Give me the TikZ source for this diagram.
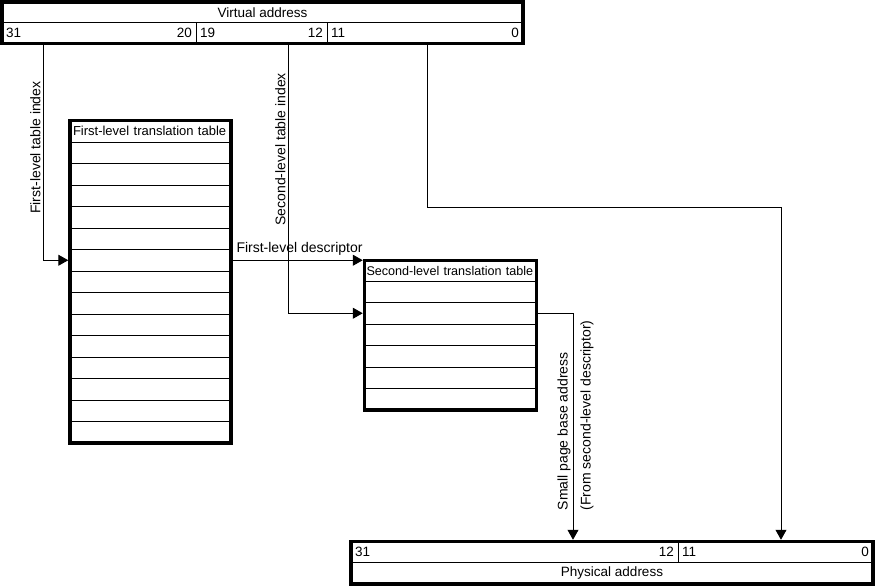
\documentclass[tikz,border=0pt]{standalone}
\usepackage{fontspec}
\setmainfont{Liberation Sans}
\usetikzlibrary{arrows.meta,positioning}
\tikzset{
  cell/.style={draw=black, line width=1pt, inner sep=0pt, outer sep=0pt, font=\fontsize{13.5}{16}\selectfont},
  bitcell/.style={cell, inner xsep=4pt, minimum height=20.5pt, anchor=north west},
  tabtitle/.style={cell, inner xsep=3pt, align=left, text width=155pt, minimum height=21.5pt, font=\fontsize{13}{15}\selectfont},
  tabrow/.style={cell, minimum height=21.5pt},
  thickframe/.style={line width=3.5pt},
  conn/.style={line width=1pt, -{Triangle[length=10pt,width=11pt]}, shorten >=1.75pt},
  vlabel/.style={rotate=90, inner sep=2pt, font=\fontsize{14}{16}\selectfont}
}
\begin{document}
\begin{tikzpicture}[x=1pt, y=-1pt]
\useasboundingbox (0,0) rectangle (876,586);
% virtual address
\node[cell, minimum width=521pt, minimum height=21pt] (vat) at (262.5,12.5) {Virtual address};
\node[bitcell, text width=186pt] (va1) at (vat.south west) {31\hfill 20};
\node[bitcell, text width=123pt, right=0pt of va1] (va2) {19\hfill 12};
\node[bitcell, text width=188pt, right=0pt of va2] (va3) {11\hfill 0};
% first-level table
\node[tabtitle] (ft) at (150.5,131.25) {First-level translation table};
\node[tabrow, minimum width=161pt, below=0pt of ft] (f1) {};
\foreach \i [evaluate=\i as \j using int(\i-1)] in {2,...,14}
  \node[tabrow, minimum width=161pt, below=0pt of f\j] (f\i) {};
% second-level table
\node[tabtitle, inner xsep=2pt, text width=168pt, minimum height=20.5pt, font=\fontsize{12.6}{15}\selectfont] (st) at (450.5,270.75) {\mbox{Second-level translation table}};
\node[tabrow, minimum width=172pt, below=0pt of st] (s1) {};
\foreach \i [evaluate=\i as \j using int(\i-1)] in {2,...,6}
  \node[tabrow, minimum width=172pt, below=0pt of s\j] (s\i) {};
% physical address
\node[bitcell, text width=319pt] (pa1) at (351,541.5) {31\hfill 12};
\node[bitcell, text width=187pt, right=0pt of pa1] (pa2) {11\hfill 0};
\node[cell, minimum width=522pt, minimum height=22pt, anchor=north west] (pat) at (pa1.south west) {Physical address};
% taps
\coordinate (ti1) at ([xshift=41pt]va1.south west);
\coordinate (ti2) at ([xshift=92pt]va2.south west);
\coordinate (toff) at ([xshift=100pt]va3.south west);
\coordinate (pbase) at ([xshift=222pt]pa1.north west);
\coordinate (poff) at ([xshift=103pt]pa2.north west);
\coordinate (obend) at (poff |- 0,207);
% connectors
\draw[conn] (ti1) |- node[vlabel, pos=0.24, anchor=south] (lfi) {First-level table index} (f6.west);
\draw[conn] (f6.east) -- node[pos=0, anchor=south west, inner xsep=5pt, inner ysep=4pt, font=\fontsize{14}{16}\selectfont] (lfd) {First-level descriptor} (f6.east -| st.west);
\draw[conn] (ti2) |- node[vlabel, pos=0.196, anchor=south] (lsi) {Second-level table index} (s2.west);
\draw[conn] (s2.east) -| node[vlabel, pos=0.937, anchor=south west] (lsp) {Small page base address}
  node[vlabel, pos=0.937, anchor=north west, inner ysep=7pt] (lfs) {(From second-level descriptor)} (pbase);
\draw[conn] (toff) |- (obend) -- (poff);
% frames
\draw[thickframe] (vat.north west) rectangle (va3.south east);
\draw[thickframe] (ft.north west) rectangle (f14.south east);
\draw[thickframe] (st.north west) rectangle (s6.south east);
\draw[thickframe] (pa1.north west) rectangle (pat.south east);
\end{tikzpicture}
\end{document}
